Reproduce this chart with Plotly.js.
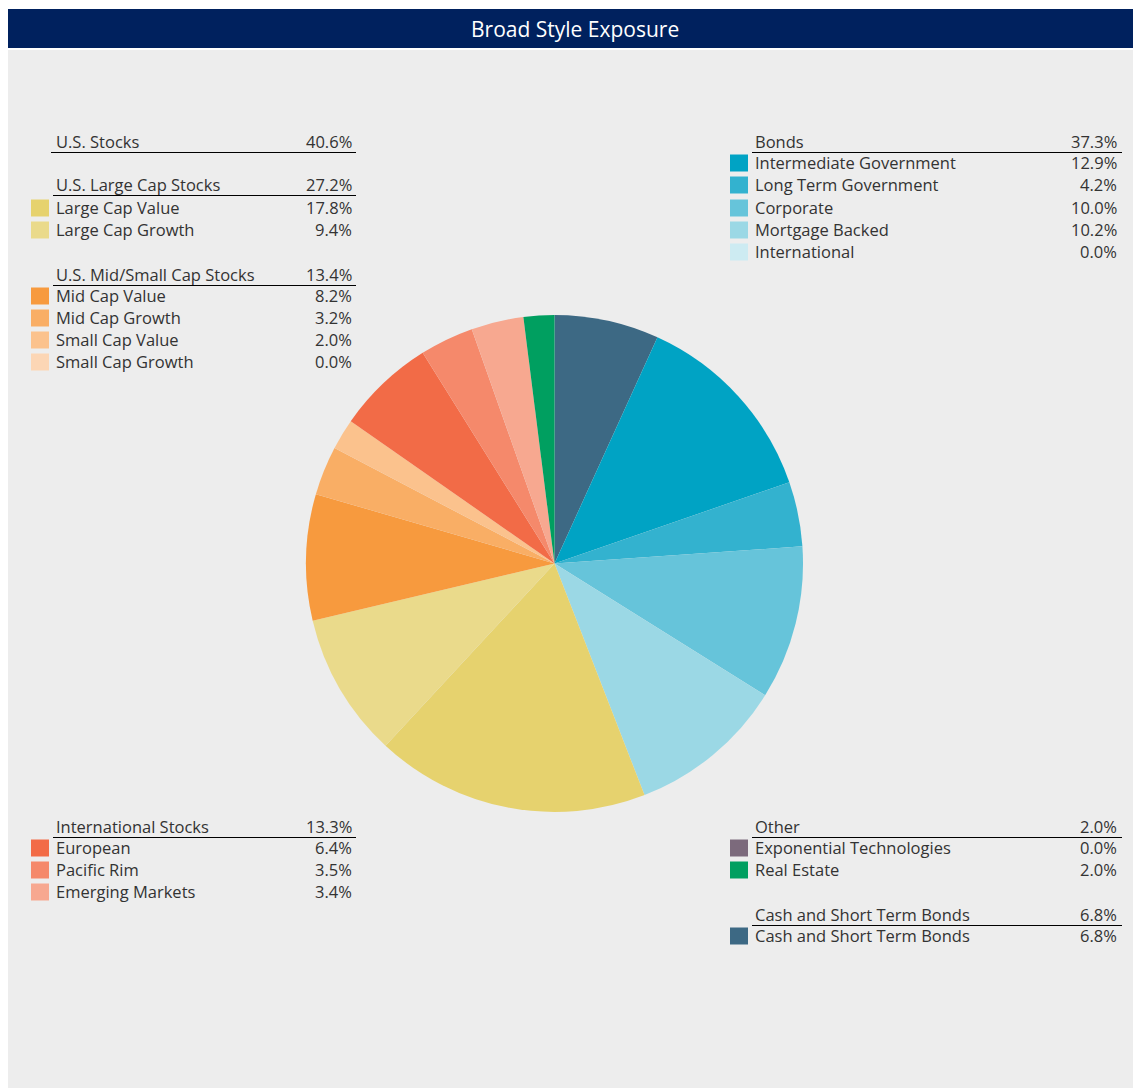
<!DOCTYPE html>
<html>
<head>
<meta charset="utf-8">
<script src="https://cdn.plot.ly/plotly-3.0.1.min.js"></script>
<style>html,body{margin:0;padding:0;background:#fff;}#chart{width:1133px;height:1088px;}</style>
</head>
<body>
<div id="chart"></div>
<script>
// ---- data (clockwise from 12 o'clock) ----
const sliceLabels = ["Cash and Short Term Bonds", "Intermediate Government", "Long Term Government", "Corporate", "Mortgage Backed", "International",
  "Large Cap Value", "Large Cap Growth", "Mid Cap Value", "Mid Cap Growth", "Small Cap Value", "Small Cap Growth",
  "European", "Pacific Rim", "Emerging Markets", "Exponential Technologies", "Real Estate"];
const sliceValues = [6.8, 12.9, 4.2, 10.0, 10.2, 0.0, 17.8, 9.4, 8.2, 3.2, 2.0, 0.0, 6.4, 3.5, 3.4, 0.0, 2.0];
const sliceColors = ["#3D6984", "#00A3C4", "#33B2CF", "#66C4DA", "#9BD8E5", "#CDEBF2",
  "#E6D26E", "#EADA8B", "#F79A3E", "#F9AE65", "#FBC28D", "#FCD6B5",
  "#F26B47", "#F5896B", "#F7A890", "#7C6A7C", "#009F60"];

const groupNames = ["U.S. Stocks", "U.S. Large Cap Stocks", "U.S. Mid/Small Cap Stocks", "International Stocks", "Bonds", "Other", "Cash and Short Term Bonds"];
const groupValues = [40.6, 27.2, 13.4, 13.3, 37.3, 2.0, 6.8];

const chartTitle = "Broad Style Exposure";

// ---- layout helpers ----
const W = 1133, H = 1088;
const px = x => x / W;
const py = y => 1 - y / H;
const FONT = "Open Sans, Lato, sans-serif";
const TXT = "#333333";
const FS = 16.5;

const shapes = [];
const annotations = [];

// background blocks
shapes.push({type: "rect", xref: "paper", yref: "paper", x0: px(8), x1: px(1133), y0: py(48), y1: py(9), fillcolor: "#00215E", line: {width: 0}, layer: "below"});
shapes.push({type: "rect", xref: "paper", yref: "paper", x0: px(8), x1: px(1133), y0: py(1088), y1: py(50), fillcolor: "#EDEDED", line: {width: 0}, layer: "below"});

annotations.push({text: chartTitle, xref: "paper", yref: "paper", x: px(575), y: py(29), xanchor: "center", yanchor: "middle", showarrow: false, font: {family: FONT, size: 21, color: "#FFFFFF"}});

function idx(name) { return sliceLabels.indexOf(name); }
function gidx(name) { return groupNames.indexOf(name); }

// column definitions (pixel positions)
const colL = {sw: 31, txt: 55, val: 353, ul0: 51, ul1: 356, clip: 230};
const colR = {sw: 730, txt: 754, val: 1118, ul0: 752, ul1: 1122, clip: 300};

function header(col, name, y, lineStart) {
  annotations.push({text: name, xref: "paper", yref: "paper", x: px(col.txt), y: py(y - 0.5), xanchor: "left", yanchor: "middle", align: "left", width: col.clip, showarrow: false, borderpad: 0, font: {family: FONT, size: FS, color: TXT}});
  annotations.push({text: groupValues[gidx(name)].toFixed(1) + "%", xref: "paper", yref: "paper", x: px(col.val), y: py(y - 0.5), xanchor: "right", yanchor: "middle", showarrow: false, borderpad: 0, font: {family: FONT, size: FS, color: TXT}});
  shapes.push({type: "line", xref: "paper", yref: "paper", x0: px(lineStart !== undefined ? lineStart : col.ul0), x1: px(col.ul1), y0: py(y + 10.5), y1: py(y + 10.5), line: {color: "#000000", width: 1}});
}
function row(col, name, y, labelOverride) {
  const i = idx(name);
  shapes.push({type: "rect", xref: "paper", yref: "paper", x0: px(col.sw), x1: px(col.sw + 18), y0: py(y + 8.5), y1: py(y - 8.5), fillcolor: sliceColors[i], line: {width: 0}});
  annotations.push({text: labelOverride || name, xref: "paper", yref: "paper", x: px(col.txt), y: py(y - 0.5), xanchor: "left", yanchor: "middle", showarrow: false, borderpad: 0, font: {family: FONT, size: FS, color: TXT}});
  annotations.push({text: sliceValues[i].toFixed(1) + "%", xref: "paper", yref: "paper", x: px(col.val), y: py(y - 0.5), xanchor: "right", yanchor: "middle", showarrow: false, borderpad: 0, font: {family: FONT, size: FS, color: TXT}});
}

// left column
header(colL, "U.S. Stocks", 142, 51);
header(colL, "U.S. Large Cap Stocks", 185, 53);
row(colL, "Large Cap Value", 208);
row(colL, "Large Cap Growth", 230);
header(colL, "U.S. Mid/Small Cap Stocks", 275, 53);
row(colL, "Mid Cap Value", 296);
row(colL, "Mid Cap Growth", 318);
row(colL, "Small Cap Value", 340);
row(colL, "Small Cap Growth", 362);
header(colL, "International Stocks", 827, 53);
row(colL, "European", 848);
row(colL, "Pacific Rim", 870);
row(colL, "Emerging Markets", 892);

// right column
header(colR, "Bonds", 142);
row(colR, "Intermediate Government", 163);
row(colR, "Long Term Government", 185);
row(colR, "Corporate", 208);
row(colR, "Mortgage Backed", 230);
row(colR, "International", 252);
header(colR, "Other", 827);
row(colR, "Exponential Technologies", 848);
row(colR, "Real Estate", 870);
header(colR, "Cash and Short Term Bonds", 915);
row(colR, "Cash and Short Term Bonds", 936);

const trace = {
  type: "pie",
  labels: sliceLabels,
  values: sliceValues,
  marker: {colors: sliceColors, line: {color: "#FFFFFF", width: 0}},
  sort: false,
  direction: "clockwise",
  rotation: 0,
  textinfo: "none",
  hoverinfo: "label+percent",
  showlegend: false,
  domain: {x: [px(306), px(803)], y: [py(812), py(315)]}
};

const layout = {
  width: W, height: H,
  margin: {l: 0, r: 0, t: 0, b: 0},
  paper_bgcolor: "#FFFFFF",
  showlegend: false,
  shapes: shapes,
  annotations: annotations
};

Plotly.newPlot("chart", [trace], layout, {displayModeBar: false, staticPlot: true});
</script>
</body>
</html>
